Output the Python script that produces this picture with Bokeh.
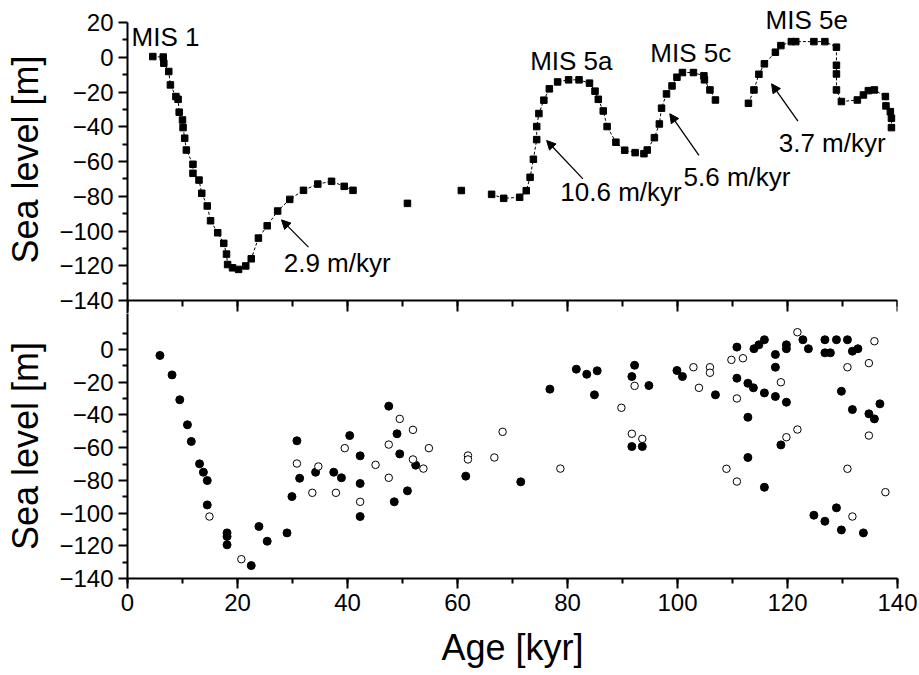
from bokeh.plotting import figure
from bokeh.models import (Range1d, LinearAxis, SingleIntervalTicker, FixedTicker,
                          Label, Arrow, NormalHead, CustomJSTickFormatter)
from bokeh.layouts import column
from bokeh.embed import file_html
from bokeh.resources import INLINE

# ---------------- data: top panel (sea-level reconstruction) ----------------
seg1_age = [4.6, 6.5, 6.6, 7.5, 7.8, 8.8, 9.2, 9.4, 10.0, 10.1, 10.4, 10.7, 11.9, 11.9,
            13.0, 13.5, 14.5, 15.1, 16.4, 17.5, 18.0, 18.2, 19.1, 20.2, 21.5, 22.5,
            23.8, 25.4, 27.3, 29.5, 32.0, 34.6, 37.1, 39.4, 41.0]
seg1_sl = [0.4, 0.1, -3.4, -8.2, -15.9, -22.6, -24.2, -31.6, -36.1, -40.5, -46.6, -53.4,
           -61.6, -66.8, -70.7, -78.3, -85.6, -94.1, -101.0, -107.1, -113.3, -119.3,
           -121.2, -122.1, -120.1, -116.0, -104.1, -97.0, -88.5, -81.8, -76.6, -73.0,
           -71.4, -74.3, -76.6]
iso_age = [50.9, 60.7]
iso_sl = [-84.1, -76.7]
seg2_age = [66.2, 68.4, 71.3, 72.5, 73.2, 73.8, 74.4, 74.4, 74.8, 75.7, 76.7, 78.2, 80.2,
            82.1, 84.0, 85.0, 85.6, 86.5, 87.2, 88.8, 90.4, 92.3, 93.9, 94.5, 95.8, 96.7,
            97.1, 98.0, 99.0, 99.9, 100.9, 102.9, 104.8, 104.9, 105.9, 106.9]
seg2_sl = [-78.9, -81.2, -80.6, -76.8, -69.1, -58.7, -47.4, -39.9, -32.4, -24.7, -18.2,
           -14.2, -13.0, -13.0, -14.9, -19.5, -24.2, -30.9, -39.9, -48.9, -53.5, -54.9,
           -55.5, -53.4, -46.3, -38.4, -29.3, -21.1, -16.5, -11.5, -8.8, -8.8, -10.7,
           -13.0, -18.8, -24.6]
seg3_age = [112.9, 113.9, 114.8, 115.8, 117.8, 118.8, 120.7, 121.5, 124.8, 126.8, 128.9,
            128.9, 128.9, 128.9, 129.8, 132.7, 133.8, 134.7, 135.8, 137.8, 137.9, 138.7,
            138.9, 138.9]
seg3_sl = [-26.5, -18.8, -9.8, -3.8, 2.9, 6.7, 9.0, 9.0, 9.0, 9.0, 5.8, -4.6, -9.6, -18.8,
           -25.5, -24.6, -21.7, -19.2, -18.8, -22.6, -28.0, -31.3, -35.1, -40.5]

# annotations of the top panel
lab_text = ["MIS 1", "MIS 5a", "MIS 5c", "MIS 5e"]
lab_x = [6.9, 80.7, 102.4, 123.5]
lab_y = [11.4, -1.9, 2.7, 21.2]
rate_text = ["2.9 m/kyr", "10.6 m/kyr", "5.6 m/kyr", "3.7 m/kyr"]
rate_x = [28.4, 78.7, 101.1, 118.4]
rate_y = [-118.7, -77.8, -69.2, -49.1]
arr_x0 = [32.9, 82.8, 103.9, 121.9]
arr_y0 = [-109.3, -70.0, -56.5, -36.8]
arr_x1 = [28.0, 76.2, 98.6, 117.1]
arr_y1 = [-93.6, -47.9, -32.5, -15.3]

# ---------------- data: bottom panel (sea-level indicators) ----------------
full_age = [5.9, 8.1, 9.5, 10.9, 11.6, 13.1, 13.8, 14.5, 14.5, 18.1, 18.1, 18.1, 22.5, 23.9,
            25.4, 29.0, 29.9, 30.8, 31.3, 34.2, 37.5, 38.9, 40.4, 42.3, 42.3, 42.3,
            47.5, 49.0, 49.5, 52.4, 50.9, 48.5, 61.5, 71.5, 76.8, 81.6, 83.5, 85.4, 84.9,
            91.7, 93.6, 91.7, 92.2, 94.8, 99.9, 100.9, 106.9, 110.8, 110.8, 112.8, 113.8,
            112.8, 112.8, 113.9, 114.8, 115.8, 115.8, 115.8, 117.8, 117.8, 117.8, 118.8,
            119.8, 119.8, 119.8, 122.8, 123.8, 124.8, 126.8, 126.8, 127.8, 126.8, 128.9,
            128.9, 129.8, 129.8, 130.9, 131.8, 132.8, 131.8, 133.8, 134.8, 135.8, 136.8]
full_sl = [-3.6, -15.5, -30.7, -46.0, -56.2, -69.9, -75.0, -80.1, -95.0, -112.1, -114.3,
           -119.4, -132.1, -108.2, -117.2, -112.1, -89.9, -55.8, -78.7, -75.0, -75.0, -78.4,
           -52.6, -65.0, -81.9, -102.1, -34.6, -51.5, -63.8, -70.7, -86.4, -93.1, -77.4,
           -80.9, -24.2, -12.0, -15.1, -13.0, -27.7, -59.3, -59.3, -16.5, -9.6, -22.0,
           -12.8, -16.5, -27.7, 1.5, -17.5, -20.6, -23.4, -41.4, -66.0, 0.5, 2.9, 6.0,
           -26.5, -84.2, -3.0, -10.8, -28.7, -58.3, -32.2, 2.9, 0.5, 6.0, 0.5, -101.3, 6.0,
           -2.0, -2.0, -105.0, 6.0, -96.8, -25.5, -110.3, 6.0, -1.0, 0.5, -36.7, -112.1,
           -39.3, -42.4, -33.2]
open_age = [14.9, 20.7, 30.8, 33.6, 34.7, 37.9, 39.5, 42.3, 45.1, 47.5, 47.5, 49.5, 51.9,
            51.9, 53.8, 54.8, 61.9, 61.9, 66.7, 68.2, 78.7, 89.8, 91.7, 93.6, 92.2, 102.9,
            103.9, 105.9, 105.9, 109.8, 111.9, 110.8, 108.9, 110.8, 118.8, 119.8, 121.8,
            121.8, 130.9, 130.9, 131.8, 134.8, 134.8, 135.8, 137.8]
open_sl = [-102.1, -128.2, -69.7, -87.6, -71.5, -87.6, -60.3, -93.1, -70.5, -58.1, -78.4,
           -42.4, -49.1, -67.2, -72.8, -60.3, -64.8, -67.2, -66.0, -50.3, -72.8, -35.6,
           -51.5, -54.6, -22.2, -10.8, -23.4, -10.8, -14.2, -6.3, -5.3, -29.9, -72.9,
           -80.7, -20.0, -53.6, -48.9, 10.6, -10.8, -72.9, -102.1, -8.3, -52.6, 5.1, -87.2]

# axis limits and ticks of the two stacked panels
TOP_LIM = (-140, 20)
BOT_LIM = (-140, 30)
top_major = [20, 0, -20, -40, -60, -80, -100, -120, -140]
top_minor = [10, -10, -30, -50, -70, -90, -110, -130]
bot_major = [0, -20, -40, -60, -80, -100, -120, -140]
bot_minor = [10, -10, -30, -50, -70, -90, -110, -130]

# layout (pixels)
PANEL_H = 278      # nominal height of each panel
HEAD = 17          # free room above the top panel (MIS 5e label)
TAIL = 13          # the top canvas reaches this far below the panel boundary
FRAME_W = 770
LEFT, RIGHT = 127, 22

FONT = "'Liberation Sans', Arial, sans-serif"
TICK_FS = "24px"
TITLE_FS = "36px"
ANN_FS = "26px"

top_scale = PANEL_H / (TOP_LIM[1] - TOP_LIM[0])
bot_scale = PANEL_H / (BOT_LIM[1] - BOT_LIM[0])
top_range = Range1d(TOP_LIM[0] - TAIL / top_scale, TOP_LIM[1] + HEAD / top_scale)
bot_range = Range1d(BOT_LIM[0], BOT_LIM[1] - TAIL / bot_scale)


def style_y(ax):
    ax.axis_line_width = 2
    ax.major_tick_line_width = 2
    ax.minor_tick_line_width = 2
    ax.major_tick_out = 9
    ax.major_tick_in = 0
    ax.minor_tick_out = 5
    ax.minor_tick_in = 0
    ax.major_label_text_font = FONT
    ax.major_label_text_font_size = TICK_FS
    ax.major_label_text_color = "black"
    ax.major_label_standoff = 5
    ax.axis_label = "Sea level [m]"
    ax.axis_label_text_font = FONT
    ax.axis_label_text_font_size = TITLE_FS
    ax.axis_label_text_font_style = "normal"
    ax.axis_label_text_color = "black"
    ax.axis_label_standoff = 10


# ---------------- top figure ----------------
p1 = figure(frame_width=FRAME_W, frame_height=PANEL_H + HEAD + TAIL, output_backend="svg",
            toolbar_location=None, x_range=Range1d(0, 140), y_range=top_range,
            min_border_left=LEFT, min_border_right=RIGHT, min_border_top=5,
            min_border_bottom=0, background_fill_color="white", border_fill_color="white")
p1.outline_line_color = None
p1.grid.visible = False
p1.xaxis.visible = False
ya = p1.yaxis[0]
ya.bounds = (top_range.start, TOP_LIM[1])
ya.ticker = FixedTicker(ticks=top_major, minor_ticks=top_minor)
style_y(ya)

# boundary line between the panels, with ticks pointing into the lower panel
sep = LinearAxis(fixed_location=TOP_LIM[0],
                 ticker=SingleIntervalTicker(interval=20, num_minor_ticks=2),
                 formatter=CustomJSTickFormatter(code="return '';"),
                 major_tick_out=11, major_tick_in=0, minor_tick_out=6, minor_tick_in=0,
                 axis_line_width=2, major_tick_line_width=2, minor_tick_line_width=2)
p1.add_layout(sep, "below")

for xs, ys in [(seg1_age, seg1_sl), (seg2_age, seg2_sl), (seg3_age, seg3_sl)]:
    p1.line(xs, ys, line_color="black", line_width=1, line_dash="3 2")
    p1.scatter(xs, ys, marker="square", size=6.5, fill_color="black", line_color="black")
p1.scatter(iso_age, iso_sl, marker="square", size=6.5, fill_color="black", line_color="black")

for t, x, y in zip(lab_text, lab_x, lab_y):
    p1.add_layout(Label(x=x, y=y, text=t, text_font=FONT, text_font_size=ANN_FS,
                        text_align="center", text_baseline="middle", text_color="black"))
for t, x, y in zip(rate_text, rate_x, rate_y):
    p1.add_layout(Label(x=x, y=y, text=t, text_font=FONT, text_font_size=ANN_FS,
                        text_align="left", text_baseline="middle", text_color="black"))
for x0, y0, x1, y1 in zip(arr_x0, arr_y0, arr_x1, arr_y1):
    p1.add_layout(Arrow(end=NormalHead(size=9, line_color="black", fill_color="black"),
                        x_start=x0, y_start=y0, x_end=x1, y_end=y1,
                        line_color="black", line_width=1.3))

# ---------------- bottom figure ----------------
p2 = figure(frame_width=FRAME_W, frame_height=PANEL_H - TAIL, output_backend="svg",
            toolbar_location=None, x_range=p1.x_range, y_range=bot_range,
            min_border_left=LEFT, min_border_right=RIGHT, min_border_top=0,
            min_border_bottom=0, background_fill_color="white", border_fill_color="white")
p2.outline_line_color = None
p2.grid.visible = False
yb = p2.yaxis[0]
yb.ticker = FixedTicker(ticks=bot_major, minor_ticks=bot_minor)
style_y(yb)

xa = p2.xaxis[0]
xa.ticker = SingleIntervalTicker(interval=20, num_minor_ticks=2)
xa.axis_label = "Age [kyr]"
xa.axis_line_width = 2
xa.major_tick_line_width = 2
xa.minor_tick_line_width = 2
xa.major_tick_out = 10
xa.major_tick_in = 0
xa.minor_tick_out = 5
xa.minor_tick_in = 0
xa.major_label_text_font = FONT
xa.major_label_text_font_size = TICK_FS
xa.major_label_text_color = "black"
xa.major_label_standoff = 5
xa.axis_label_text_font = FONT
xa.axis_label_text_font_size = TITLE_FS
xa.axis_label_text_font_style = "normal"
xa.axis_label_text_color = "black"
xa.axis_label_standoff = 13

p2.scatter(full_age, full_sl, marker="circle", size=8, fill_color="black", line_color="black")
p2.scatter(open_age, open_sl, marker="circle", size=7.5, fill_color="white",
           line_color="black", line_width=1)

layout = column(p1, p2, spacing=0)
open("out.html", "w").write(file_html(layout, INLINE))
